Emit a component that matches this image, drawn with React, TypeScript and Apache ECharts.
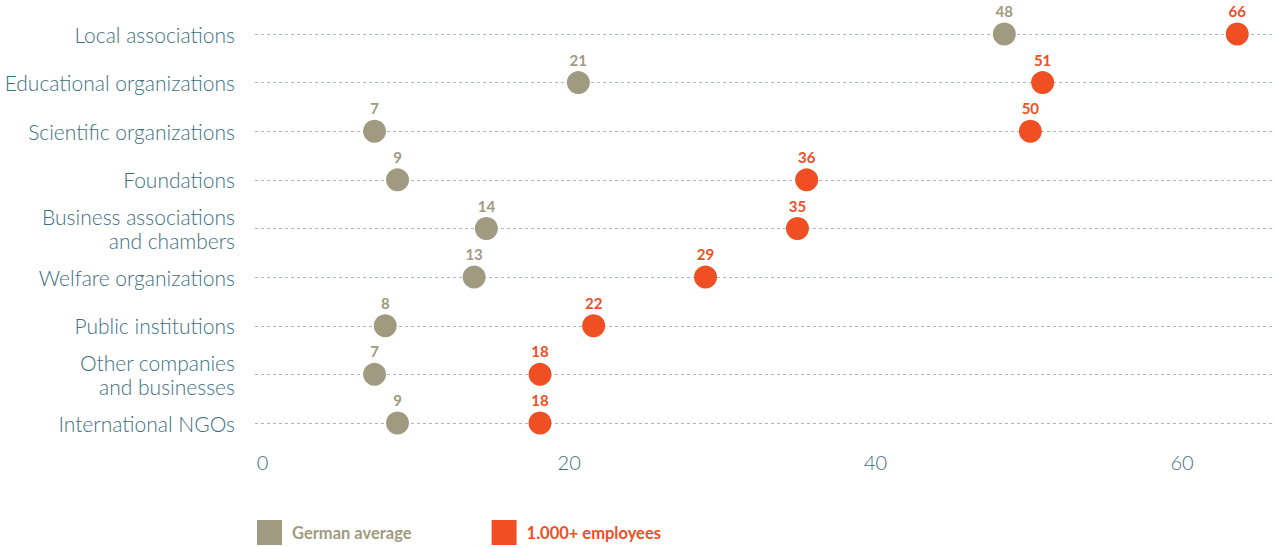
import React, { useEffect, useRef } from "react";
import * as echarts from "echarts";

const categories = [
  "Local associations",
  "Educational organizations",
  "Scientific organizations",
  "Foundations",
  "Business associations\nand chambers",
  "Welfare organizations",
  "Public institutions",
  "Other companies\nand businesses",
  "International NGOs",
];

// printed labels
const germanLabels = [48, 21, 7, 9, 14, 13, 8, 7, 9];
const employeeLabels = [66, 51, 50, 36, 35, 29, 22, 18, 18];

// dot positions
const germanValues = [48.4, 20.6, 7.3, 8.8, 14.6, 13.8, 8.0, 7.3, 8.8];
const employeeValues = [63.6, 50.9, 50.1, 35.5, 34.9, 28.9, 21.6, 18.1, 18.1];

const xTicks = [0, 20, 40, 60];

const GRAY = "#a09a80";
const ORANGE = "#f04e23";
const TEXT = "#40707f";
const FONT = "Lato, 'Open Sans', sans-serif";

export default function App() {
  const ref = useRef<HTMLDivElement>(null);
  useEffect(() => {
    if (!ref.current) return;
    const chart = echarts.init(ref.current, null, { renderer: "svg" });
    const mk = (name: string, vals: number[], labels: number[], color: string) => ({
      name,
      type: "scatter",
      symbol: "circle",
      symbolSize: 23,
      itemStyle: { color, opacity: 1 },
      data: vals.map((v, i) => [v, categories[i]]),
      label: {
        show: true,
        position: "top",
        distance: 4,
        color,
        fontFamily: FONT,
        fontWeight: "bold",
        fontSize: 15,
        formatter: (p: any) => String(labels[p.dataIndex]),
      },
      emphasis: { disabled: true },
    });
    chart.setOption({
      animation: false,
      grid: { left: 255, right: 0, top: 34, bottom: 124, containLabel: false },
      xAxis: {
        type: "value",
        min: -0.5,
        max: 66,
        axisLine: { show: false },
        axisTick: { show: false },
        splitLine: { show: false },
        axisLabel: {
          customValues: xTicks,
          color: TEXT,
          fontFamily: FONT,
          fontSize: 20,
          fontWeight: 300,
          margin: 29,
        },
      },
      yAxis: {
        type: "category",
        data: categories,
        inverse: true,
        boundaryGap: false,
        axisLine: { show: false },
        axisTick: { show: false },
        splitLine: {
          show: true,
          lineStyle: { color: "#a9b9c4", type: [3, 3], width: 1 },
        },
        axisLabel: {
          color: TEXT,
          fontFamily: FONT,
          fontSize: 21,
          fontWeight: 300,
          margin: 20,
          lineHeight: 24,
          align: "right",
        },
      },
      legend: {
        left: 257,
        top: 520,
        padding: 0,
        itemWidth: 25,
        itemHeight: 25,
        itemGap: 80,
        icon: "rect",
        selectedMode: false,
        data: [
          { name: "German average", textStyle: { color: GRAY } },
          { name: "1.000+ employees", textStyle: { color: ORANGE } },
        ],
        textStyle: { fontFamily: FONT, fontWeight: "bold", fontSize: 16.5, padding: [0, 0, 0, 5] },
      },
      series: [
        mk("German average", germanValues, germanLabels, GRAY),
        mk("1.000+ employees", employeeValues, employeeLabels, ORANGE),
      ],
    });
    return () => chart.dispose();
  }, []);
  return (
    <div
      ref={ref}
      style={{ position: "fixed", left: 0, top: 0, width: 1274, height: 547, background: "#fff" }}
    />
  );
}
